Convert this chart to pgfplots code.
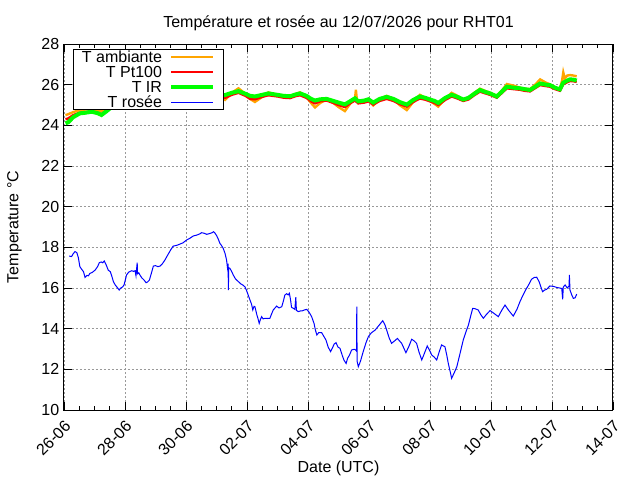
\documentclass[border=0pt]{standalone}
\usepackage{fontspec}
\setmainfont{Liberation Sans}
\usepackage{pgfplots}
\pgfplotsset{compat=1.18}
\definecolor{gorange}{HTML}{FFA500}
\definecolor{gred}{HTML}{FF0000}
\definecolor{ggreen}{HTML}{00FF00}
\definecolor{gblue}{HTML}{0000FF}
\begin{document}
\begin{tikzpicture}
\path[use as bounding box] (-48pt,-52.5pt) rectangle (432pt,307.5pt);
\begin{axis}[
  at={(0,0)}, anchor=south west,
  scale only axis, width=411.75pt, height=274.5pt,
  xmin=0, xmax=18, ymin=10, ymax=28,
  xtick={0,2,...,18},
  xticklabels={26-06,28-06,30-06,02-07,04-07,06-07,08-07,10-07,12-07,14-07},
  ytick={10,12,...,28},
  minor x tick num=3,
  grid=major,
  major grid style={color=black!40, dash pattern=on 1.5pt off 1.5pt, line width=0.6pt},
  tick align=inside,
  major tick length=6pt, minor tick length=3pt,
  tick style={black, line width=0.6pt},
  axis line style={line width=0.75pt},
  font=\fontsize{12}{14}\selectfont,
  /pgf/number format/assume math mode=true,
  xticklabel style={xshift=3pt, yshift=-10pt, rotate=45, anchor=east, inner sep=0pt},
  title={Température et rosée au 12/07/2026 pour RHT01},
  xlabel={Date (UTC)},
  ylabel={Temperature °C},
  ylabel style={yshift=8pt},
  legend cell align=right,
  legend plot pos=right,
  legend style={at={(0.016,0.986)}, anchor=north west, draw=black, line width=0.75pt, fill=white,
    font=\fontsize{12}{14}\selectfont, inner xsep=6pt, inner ysep=0.5pt, row sep=0.75pt,
    nodes={text height=8.5pt, text depth=1pt, inner sep=0.5pt}, column sep=5pt},
  legend image code/.code={\draw[#1] (0cm,0cm) -- (1.1cm,0cm);},
]
\addplot[gorange, line width=1.8pt] coordinates {
(0.05,24.5)(0.14,24.55)(0.3,24.65)(0.52,24.75)(0.7,24.78)(0.91,24.8)(1.1,24.75)(1.23,24.7)(1.4,24.85)(1.51,24.95)
(1.8,25.05)(2.2,25.2)(2.6,25.3)(3.0,25.2)(3.4,25.4)(3.8,25.5)(4.2,25.4)(4.6,25.6)(5.0,25.5)
(5.28,25.25)(5.5,25.6)(5.72,25.82)(5.95,25.55)(6.1,25.3)(6.26,25.15)(6.5,25.4)(6.70,25.62)(7.0,25.5)(7.2,25.4)
(7.41,25.38)(7.6,25.55)(7.74,25.62)(7.95,25.4)(8.1,25.1)(8.23,24.88)(8.4,25.1)(8.61,25.28)(8.83,25.1)
(9.0,24.9)(9.21,24.7)(9.4,25.1)(9.54,25.3)(9.57,25.75)(9.60,25.3)(9.65,25.1)(9.85,25.2)(9.98,25.25)
(10.14,24.98)(10.35,25.3)(10.58,25.45)(10.8,25.3)(11.0,25.0)(11.24,24.75)(11.45,25.15)(11.67,25.5)
(11.85,25.35)(12.0,25.2)(12.15,25.05)(12.27,24.92)(12.5,25.3)(12.71,25.6)(12.9,25.45)(13.09,25.25)
(13.26,25.35)(13.45,25.6)(13.64,25.8)(13.8,25.7)(13.97,25.6)(14.19,25.45)(14.35,25.7)(14.52,26.03)
(14.75,25.95)(14.95,25.85)(15.1,25.8)(15.28,25.78)(15.45,26.0)(15.61,26.26)(15.8,26.1)(15.93,26.02)
(16.1,25.85)(16.26,25.8)(16.33,26.2)(16.37,26.6)(16.42,26.3)(16.5,26.45)(16.59,26.47)(16.7,26.45)(16.81,26.41)
};
\addlegendentry{T ambiante}
\addplot[gred, line width=1.8pt] coordinates {
(0.05,24.3)(0.14,24.34)(0.3,24.5)(0.52,24.62)(0.7,24.65)(0.91,24.68)(1.1,24.62)(1.23,24.55)(1.4,24.72)(1.51,24.84)
(1.8,24.9)(2.2,25.05)(2.6,25.15)(3.0,25.1)(3.4,25.25)(3.8,25.35)(4.2,25.3)(4.6,25.45)(5.0,25.4)
(5.28,25.35)(5.5,25.5)(5.72,25.6)(5.95,25.45)(6.1,25.3)(6.26,25.28)(6.5,25.4)(6.70,25.48)(7.0,25.42)(7.2,25.36)
(7.41,25.34)(7.6,25.44)(7.74,25.48)(7.95,25.35)(8.1,25.18)(8.23,25.08)(8.4,25.18)(8.61,25.22)(8.83,25.1)
(9.0,25.0)(9.21,24.9)(9.4,25.1)(9.54,25.22)(9.65,25.08)(9.85,25.12)(9.98,25.18)
(10.14,25.02)(10.35,25.2)(10.58,25.3)(10.8,25.2)(11.0,25.05)(11.24,24.92)(11.45,25.15)(11.67,25.32)
(11.85,25.26)(12.0,25.18)(12.15,25.1)(12.27,25.0)(12.5,25.25)(12.71,25.42)(12.9,25.32)(13.09,25.2)
(13.26,25.27)(13.45,25.48)(13.64,25.66)(13.8,25.58)(13.97,25.5)(14.19,25.36)(14.35,25.58)(14.52,25.82)
(14.75,25.78)(14.95,25.75)(15.1,25.7)(15.28,25.67)(15.45,25.83)(15.61,25.98)(15.8,25.93)(15.93,25.9)
(16.1,25.78)(16.26,25.7)(16.37,26.02)(16.5,26.12)(16.59,26.18)(16.7,26.17)(16.81,26.13)
};
\addlegendentry{T Pt100}
\addplot[ggreen, line width=3pt] coordinates {
(0.05,24.1)(0.14,24.15)(0.3,24.4)(0.52,24.59)(0.7,24.62)(0.91,24.67)(1.1,24.6)(1.23,24.51)(1.4,24.7)(1.51,24.84)
(1.8,24.95)(2.2,25.1)(2.6,25.2)(3.0,25.15)(3.4,25.3)(3.8,25.4)(4.2,25.35)(4.6,25.5)(5.0,25.45)
(5.28,25.49)(5.5,25.6)(5.72,25.68)(5.95,25.55)(6.1,25.45)(6.26,25.42)(6.5,25.5)(6.70,25.57)(7.0,25.5)(7.2,25.45)
(7.41,25.43)(7.6,25.52)(7.74,25.57)(7.95,25.45)(8.1,25.3)(8.23,25.22)(8.4,25.28)(8.61,25.3)(8.83,25.2)
(9.0,25.12)(9.21,25.03)(9.4,25.2)(9.54,25.33)(9.65,25.18)(9.85,25.22)(9.98,25.28)
(10.14,25.12)(10.35,25.3)(10.58,25.4)(10.8,25.3)(11.0,25.15)(11.24,25.02)(11.45,25.25)(11.67,25.42)
(11.85,25.35)(12.0,25.27)(12.15,25.2)(12.27,25.1)(12.5,25.35)(12.71,25.5)(12.9,25.4)(13.09,25.27)
(13.26,25.35)(13.45,25.55)(13.64,25.74)(13.8,25.65)(13.97,25.57)(14.19,25.42)(14.35,25.65)(14.52,25.9)
(14.75,25.85)(14.95,25.82)(15.1,25.78)(15.28,25.74)(15.45,25.9)(15.61,26.06)(15.8,26.0)(15.93,25.98)
(16.1,25.85)(16.26,25.77)(16.37,26.1)(16.5,26.2)(16.59,26.26)(16.7,26.25)(16.81,26.2)
};
\addlegendentry{T IR}
\addplot[gblue, line width=0.75pt] coordinates {
(0.17,17.57)(0.25,17.55)(0.30,17.68)(0.36,17.79)(0.42,17.74)(0.47,17.50)(0.52,17.05)(0.58,16.92)(0.64,16.80)
(0.69,16.52)(0.75,16.62)(0.80,16.60)(0.85,16.72)(0.92,16.76)(1.02,16.88)(1.10,17.05)(1.16,17.25)(1.22,17.28)
(1.27,17.24)(1.32,17.33)(1.38,17.15)(1.45,16.88)(1.52,16.80)(1.58,16.52)(1.62,16.31)(1.68,16.15)(1.75,16.02)
(1.81,15.90)(1.86,16.00)(1.92,16.05)(1.97,16.15)(2.02,16.45)(2.05,16.64)(2.12,16.78)(2.22,16.85)(2.28,16.82)
(2.33,16.85)(2.36,16.60)(2.40,17.25)(2.41,16.70)(2.45,16.75)(2.49,16.64)(2.55,16.50)(2.62,16.40)(2.69,16.26)
(2.74,16.30)(2.80,16.39)(2.86,16.70)(2.93,17.08)(3.00,17.10)(3.08,17.05)(3.15,17.08)(3.22,17.18)(3.31,17.38)
(3.40,17.62)(3.50,17.88)(3.58,18.06)(3.70,18.10)(3.80,18.16)(3.90,18.22)(4.02,18.36)(4.12,18.44)(4.24,18.56)
(4.35,18.60)(4.45,18.66)(4.51,18.72)(4.58,18.70)(4.68,18.64)(4.78,18.68)(4.86,18.72)(4.90,18.77)(4.95,18.70)
(5.01,18.56)(5.06,18.40)(5.11,18.20)(5.16,18.10)(5.22,17.95)(5.28,17.70)(5.33,17.38)(5.36,17.00)(5.38,17.20)
(5.39,15.90)(5.40,17.00)(5.44,16.97)(5.50,16.80)(5.55,16.64)(5.62,16.45)(5.72,16.31)(5.80,16.20)(5.86,16.15)
(5.93,16.06)(5.98,15.90)(6.04,15.65)(6.10,15.40)(6.15,15.20)(6.19,14.92)(6.23,15.10)(6.26,15.08)(6.32,14.70)
(6.36,14.50)(6.40,14.26)(6.44,14.45)(6.48,14.59)(6.53,14.48)(6.59,14.51)(6.68,14.50)(6.75,14.51)(6.80,14.70)
(6.86,14.92)(6.92,15.02)(6.97,15.11)(7.05,15.02)(7.14,15.08)(7.20,15.40)(7.24,15.65)(7.30,15.72)(7.35,15.66)
(7.39,15.74)(7.43,15.40)(7.46,15.05)(7.52,15.00)(7.57,14.95)(7.60,15.55)(7.62,14.90)(7.68,14.84)(7.75,14.87)
(7.82,14.88)(7.88,14.92)(7.96,14.95)(8.04,14.80)(8.12,14.59)(8.20,14.25)(8.24,13.95)(8.29,13.69)(8.35,13.80)
(8.45,13.80)(8.52,13.62)(8.59,13.44)(8.66,13.10)(8.74,12.87)(8.80,13.05)(8.86,13.25)(8.92,13.31)(8.98,13.10)
(9.05,13.03)(9.12,12.70)(9.18,12.45)(9.25,12.29)(9.30,12.55)(9.36,12.70)(9.43,12.95)(9.50,12.98)(9.54,12.98)
(9.59,12.90)(9.60,15.08)(9.61,12.40)(9.65,12.13)(9.72,12.40)(9.81,12.87)(9.90,13.30)(9.98,13.61)(10.08,13.80)
(10.20,13.93)(10.32,14.15)(10.45,14.39)(10.52,14.20)(10.58,13.93)(10.66,13.55)(10.74,13.28)(10.84,13.40)
(10.93,13.52)(11.00,13.40)(11.07,13.28)(11.14,13.05)(11.21,12.82)(11.30,13.10)(11.40,13.48)(11.48,13.40)
(11.56,13.28)(11.64,12.85)(11.73,12.46)(11.82,12.80)(11.91,13.15)(11.98,12.95)(12.06,12.70)(12.14,12.60)
(12.22,12.46)(12.30,12.85)(12.38,13.20)(12.44,13.15)(12.49,13.11)(12.55,12.70)(12.60,12.29)(12.66,11.90)
(12.71,11.56)(12.80,11.85)(12.88,12.13)(12.98,12.75)(13.09,13.44)(13.18,13.85)(13.26,14.18)(13.33,14.60)
(13.40,15.00)(13.48,14.98)(13.58,14.92)(13.66,14.70)(13.75,14.51)(13.85,14.70)(13.97,14.89)(14.10,14.75)
(14.24,14.59)(14.35,14.90)(14.46,15.16)(14.58,14.90)(14.73,14.62)(14.85,14.95)(14.95,15.33)(15.05,15.65)
(15.15,15.94)(15.25,16.20)(15.33,16.43)(15.42,16.52)(15.50,16.53)(15.58,16.30)(15.69,15.82)(15.76,15.90)
(15.83,15.94)(15.93,16.10)(16.05,16.08)(16.15,16.03)(16.25,16.00)(16.32,15.98)(16.35,15.44)(16.37,16.05)
(16.43,16.15)(16.50,16.00)(16.56,16.10)(16.57,16.64)(16.59,15.90)(16.65,15.65)(16.70,15.49)(16.76,15.52)(16.81,15.70)
};
\addlegendentry{T rosée}
\end{axis}
\end{tikzpicture}
\end{document}
